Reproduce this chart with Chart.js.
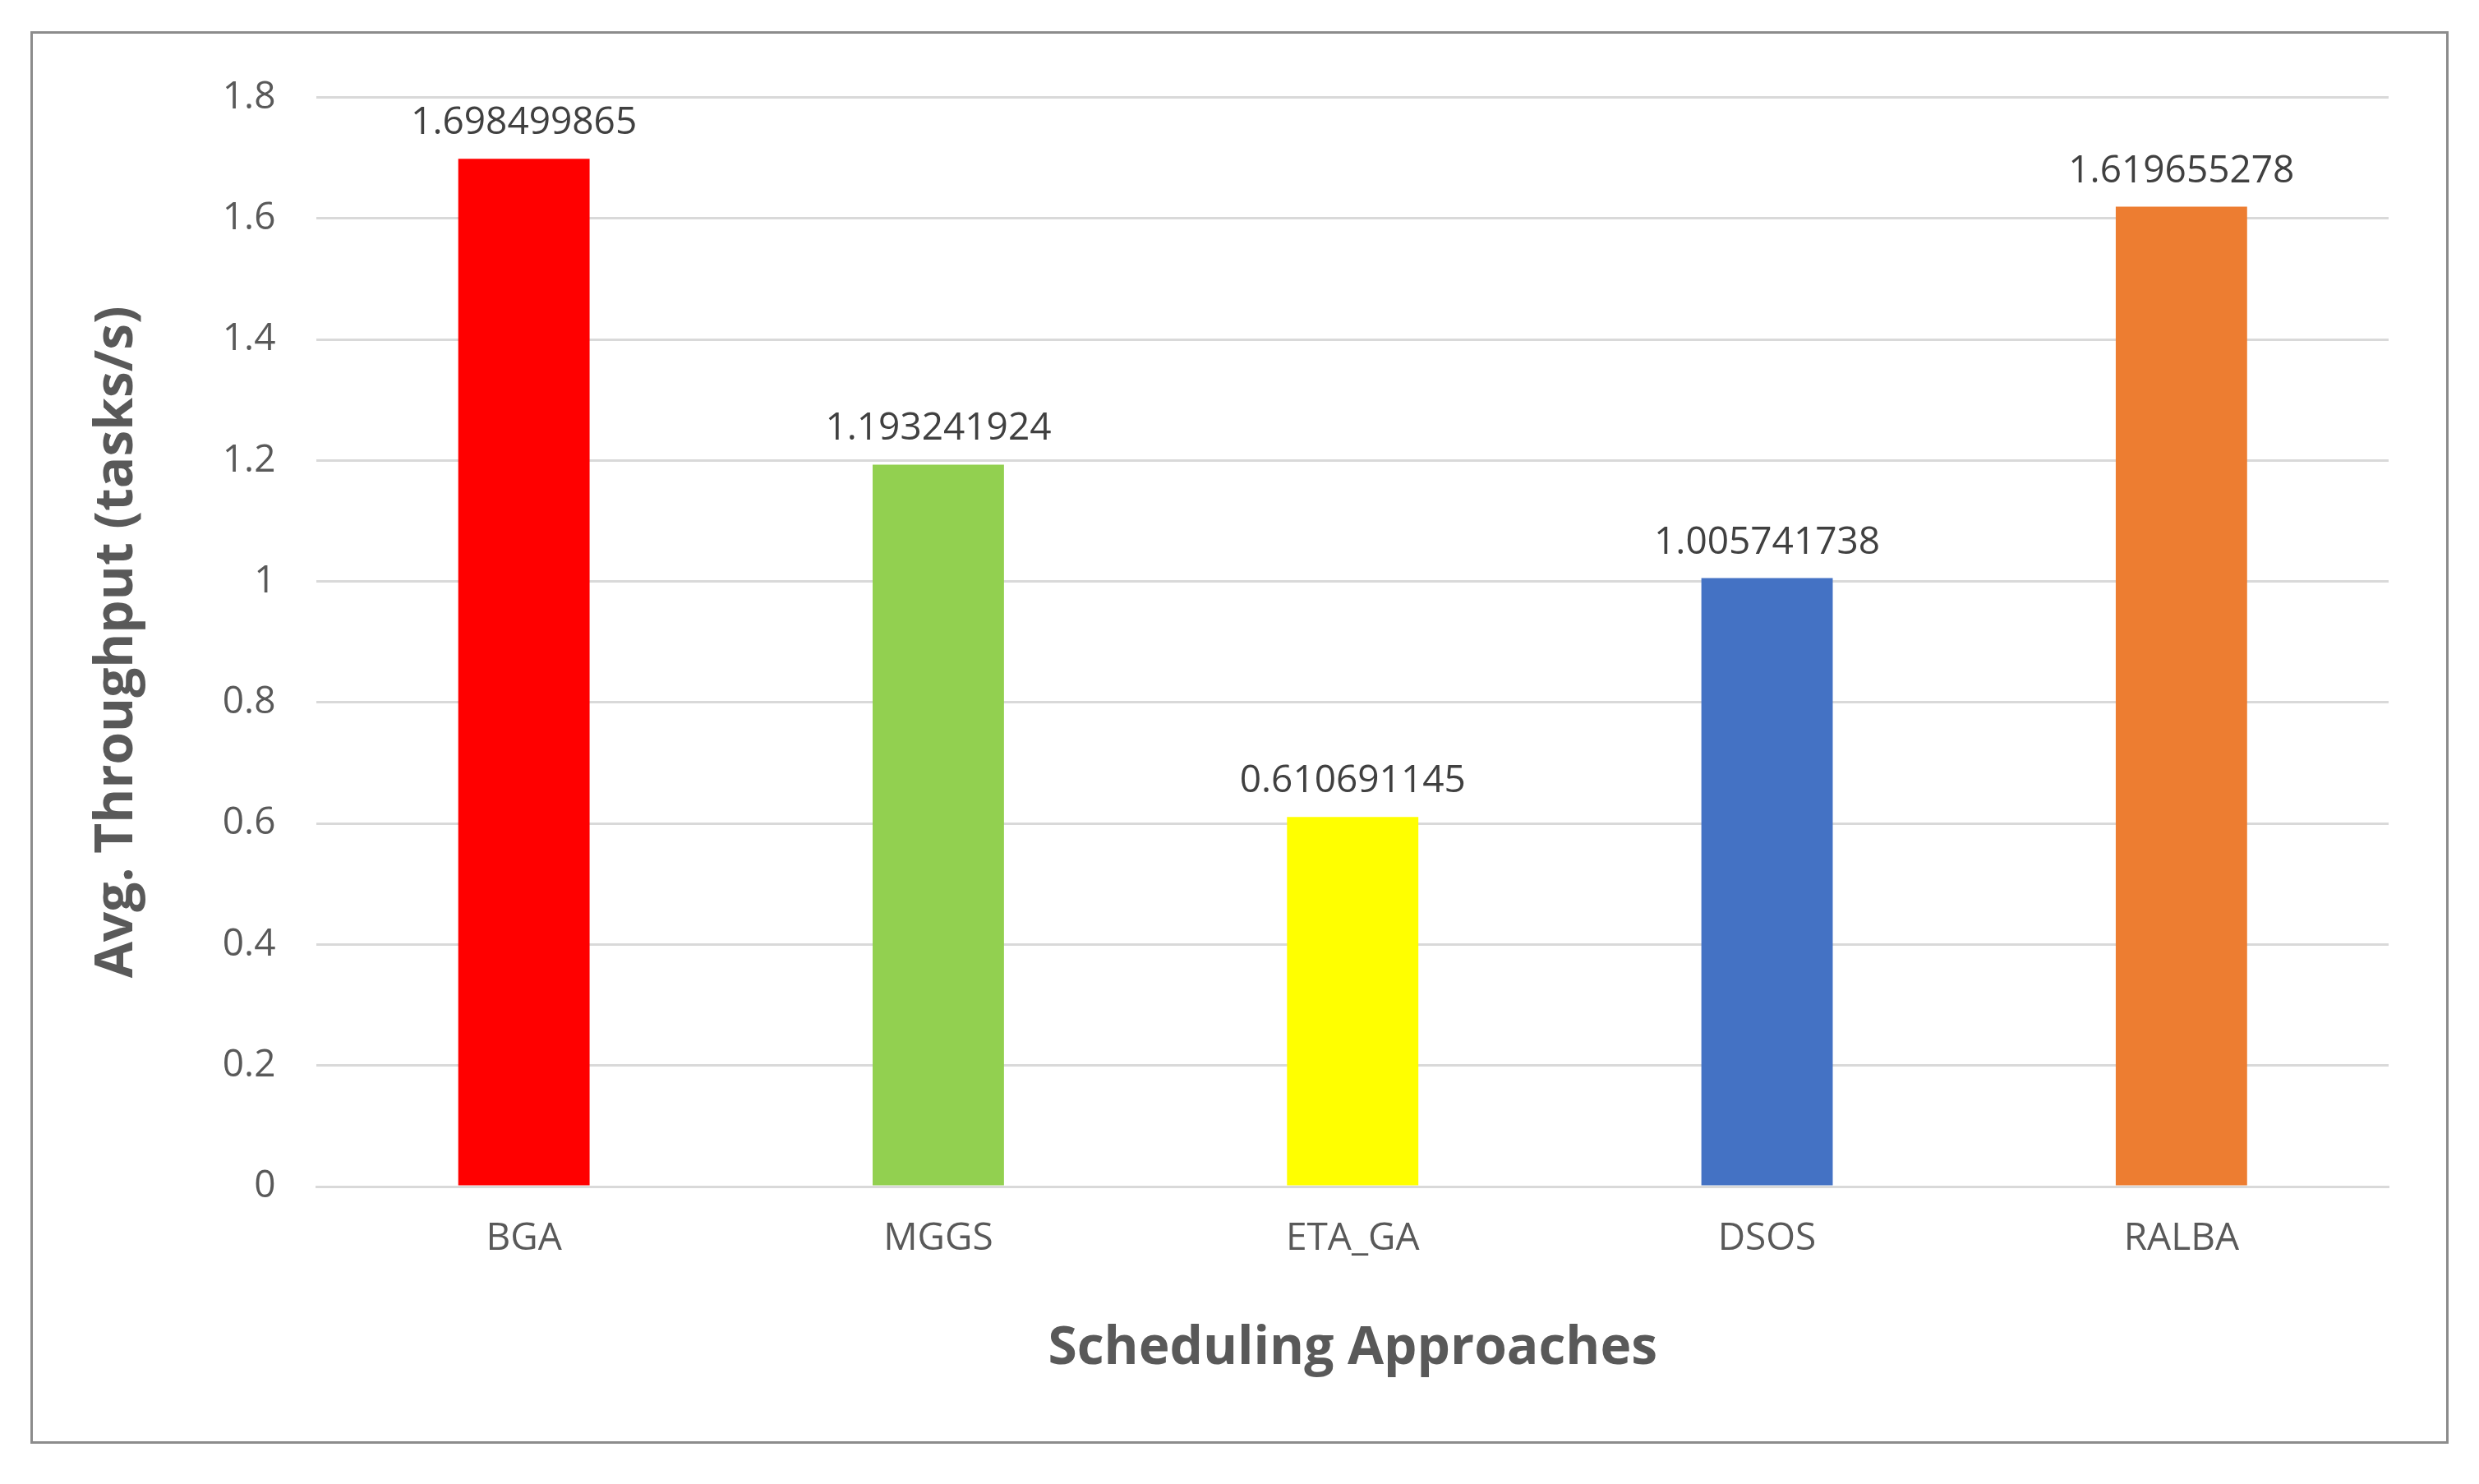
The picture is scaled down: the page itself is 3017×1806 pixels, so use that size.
<!DOCTYPE html>
<html><head>
<script src="https://cdn.jsdelivr.net/npm/chart.js@4"></script>
<style>
html,body{margin:0;background:#fff;}
#frame{position:absolute;left:37px;top:38px;width:2937px;height:1713px;border:3px solid #8c8c8c;}
canvas{display:block;}
</style></head>
<body>
<div id="frame"><canvas id="c"></canvas></div>
<script>
// Data
const categories = ['BGA', 'MGGS', 'ETA_GA', 'DSOS', 'RALBA'];
const throughput = [1.698499865, 1.193241924, 0.610691145, 1.005741738, 1.619655278];
const barColors = ['#FF0000', '#92D050', '#FFFF00', '#4472C4', '#ED7D31'];

const font = "'Open Sans', 'Liberation Sans', sans-serif";

// Value labels above bars
const valueLabels = {
    id: 'valueLabels',
    afterDatasetsDraw(chart) {
        const ctx = chart.ctx;
        const meta = chart.getDatasetMeta(0);
        ctx.save();
        ctx.font = `46px ${font}`;
        ctx.fillStyle = '#404040';
        ctx.textAlign = 'center';
        ctx.textBaseline = 'bottom';
        meta.data.forEach((bar, i) => {
            ctx.fillText(String(throughput[i]), bar.x, bar.y - 20);
        });
        ctx.restore();
    }
};

new Chart(document.getElementById('c'), {
    type: 'bar',
    data: {
        labels: categories,
        datasets: [{
            data: throughput,
            backgroundColor: barColors,
            categoryPercentage: 1.0,
            barPercentage: 0.317
        }]
    },
    options: {
        responsive: true,
        maintainAspectRatio: false,
        animation: false,
        layout: { padding: { left: 60, right: 70, top: 75, bottom: 70 } },
        plugins: { legend: { display: false }, tooltip: { enabled: false } },
        scales: {
            x: {
                grid: { display: false },
                border: { color: '#d9d9d9', width: 3 },
                ticks: { color: '#595959', font: { family: font, size: 46 }, padding: 28 },
                title: { display: true, text: 'Scheduling Approaches', color: '#595959',
                    font: { family: font, size: 64, weight: 'bold' }, padding: { top: 40 } }
            },
            y: {
                min: 0, max: 1.8,
                ticks: { stepSize: 0.2, color: '#595959', font: { family: font, size: 46 }, padding: 50,
                    callback: v => +v.toFixed(1) },
                grid: { color: '#d9d9d9', lineWidth: 3, drawTicks: false },
                border: { display: false },
                title: { display: true, text: 'Avg. Throughput (tasks/s)', color: '#595959',
                    font: { family: font, size: 64, weight: 'bold' }, padding: { bottom: 40 } }
            }
        }
    },
    plugins: [valueLabels]
});
</script>
</body></html>
